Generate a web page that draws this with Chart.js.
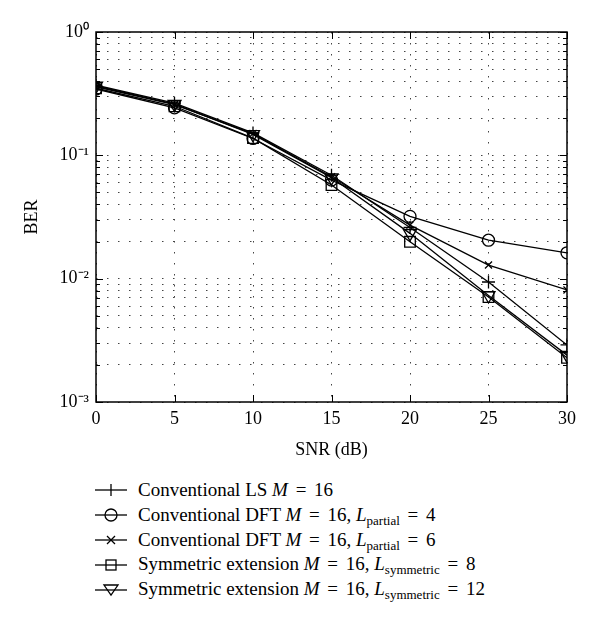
<!DOCTYPE html>
<html>
<head>
<meta charset="utf-8">
<script src="https://cdn.jsdelivr.net/npm/chart.js@4/dist/chart.umd.min.js"></script>
<style>
  html, body { margin: 0; padding: 0; background: #fff; }
  #wrap { position: relative; width: 600px; height: 625px; }
  #box { position: absolute; left: 0; top: 0; width: 600px; height: 470px; }
  #legend { position: absolute; left: 95px; top: 478px; font-family: "Liberation Serif", serif; font-size: 19px; color: #000; }
  .row { position: relative; height: 24.8px; line-height: 24.8px; white-space: nowrap; }
  .row svg { position: absolute; left: 0; top: 2.4px; }
  .row span.t { position: absolute; left: 43px; top: 0; }
  .eq { margin: 0 3px; }
  sub { font-size: 13px; vertical-align: -4px; line-height: 0; }
</style>
</head>
<body>
<div id="wrap">
  <div id="box"><canvas id="c"></canvas></div>
  <div id="legend"></div>
</div>
<script>
// ---- data ----
const snr = [0, 5, 10, 15, 20, 25, 30];
const berLS      = [0.370, 0.265, 0.152, 0.069, 0.0260, 0.0094, 0.0029];
const berDFT4    = [0.345, 0.243, 0.137, 0.063, 0.0320, 0.0205, 0.0162];
const berDFT6    = [0.360, 0.258, 0.150, 0.067, 0.0272, 0.0129, 0.0081];
const berSym8    = [0.350, 0.250, 0.138, 0.0575, 0.0199, 0.0071, 0.00228];
const berSym12   = [0.365, 0.260, 0.148, 0.066, 0.0233, 0.0073, 0.0024];

const xTickValues = [0, 5, 10, 15, 20, 25, 30];
const yDecades = [0.001, 0.01, 0.1, 1];
const yDecadeLabels = ['10\u207B\u00B3', '10\u207B\u00B2', '10\u207B\u00B9', '10\u2070'];

const EQ = '<span class="eq">=</span>';
const seriesNames = [
  'Conventional LS <i>M</i> ' + EQ + ' 16',
  'Conventional DFT <i>M</i> ' + EQ + ' 16, <i>L</i><sub>partial</sub> ' + EQ + ' 4',
  'Conventional DFT <i>M</i> ' + EQ + ' 16, <i>L</i><sub>partial</sub> ' + EQ + ' 6',
  'Symmetric extension <i>M</i> ' + EQ + ' 16, <i>L</i><sub>symmetric</sub> ' + EQ + ' 8',
  'Symmetric extension <i>M</i> ' + EQ + ' 16, <i>L</i><sub>symmetric</sub> ' + EQ + ' 12'
];
const seriesPlain = [
  'Conventional LS M = 16',
  'Conventional DFT M = 16, Lpartial = 4',
  'Conventional DFT M = 16, Lpartial = 6',
  'Symmetric extension M = 16, Lsymmetric = 8',
  'Symmetric extension M = 16, Lsymmetric = 12'
];
const seriesData = [berLS, berDFT4, berDFT6, berSym8, berSym12];
const markers = ['cross', 'circle', 'crossRot', 'rect', 'triangle'];
const markerRot = [0, 0, 0, 0, 180];
const markerRad = [6.5, 6, 5, 7.5, 7.5];

// minor+major ticks on the log axis
const yTickValues = [];
for (let e = -3; e < 0; e++) {
  for (let m = 1; m <= 9; m++) yTickValues.push(m * Math.pow(10, e));
}
yTickValues.push(1);

function decadeLabel(v) {
  const l = Math.log10(v);
  if (Math.abs(l - Math.round(l)) > 1e-9) return '';
  const i = yDecades.findIndex(d => Math.abs(Math.log10(d) - l) < 1e-9);
  return i >= 0 ? yDecadeLabels[i] : '';
}

const FONT = '"Liberation Serif", serif';

const frame = {
  id: 'frame',
  afterDraw(chart) {
    const { ctx, chartArea: { left, right, top, bottom }, scales: { x, y } } = chart;
    ctx.save();
    ctx.strokeStyle = '#000';
    ctx.lineWidth = 1;
    y.ticks.forEach(t => {
      const py = Math.round(y.getPixelForValue(t.value)) + 0.5;
      const len = decadeLabel(t.value) ? 7 : 4;
      ctx.beginPath();
      ctx.moveTo(left, py); ctx.lineTo(left + len, py);
      ctx.moveTo(right, py); ctx.lineTo(right - len, py);
      ctx.stroke();
    });
    x.ticks.forEach(t => {
      const px = Math.round(x.getPixelForValue(t.value)) + 0.5;
      ctx.beginPath();
      ctx.moveTo(px, bottom); ctx.lineTo(px, bottom - 7);
      ctx.moveTo(px, top); ctx.lineTo(px, top + 7);
      ctx.stroke();
    });
    ctx.lineWidth = 1.5;
    ctx.strokeRect(left, top, right - left, bottom - top);
    ctx.restore();
  }
};

new Chart(document.getElementById('c'), {
  type: 'line',
  data: {
    datasets: seriesData.map((d, i) => ({
      label: seriesPlain[i],
      data: snr.map((s, k) => ({ x: s, y: d[k] })),
      borderColor: '#000',
      borderWidth: 1.3,
      pointStyle: markers[i],
      pointRotation: markerRot[i],
      pointRadius: markerRad[i],
      pointBorderColor: '#000',
      pointBackgroundColor: 'rgba(0,0,0,0)',
      pointBorderWidth: 1.3,
      tension: 0,
      fill: false
    }))
  },
  options: {
    responsive: true,
    maintainAspectRatio: false,
    animation: false,
    layout: { padding: { left: 0, top: 32, right: 33, bottom: 0 } },
    plugins: { legend: { display: false }, tooltip: { enabled: false } },
    scales: {
      x: {
        type: 'linear', min: 0, max: 30,
        afterBuildTicks: s => { s.ticks = xTickValues.map(v => ({ value: v })); },
        afterFit: s => { s.height = 68; },
        ticks: { color: '#000', font: { family: FONT, size: 18 }, padding: 6, maxRotation: 0 },
        grid: { color: '#444', lineWidth: 1, drawTicks: false },
        border: { display: false, dash: [1.5, 9.5] },
        title: { display: true, text: 'SNR (dB)', color: '#000', font: { family: FONT, size: 18 }, padding: { top: 0, bottom: 9 } }
      },
      y: {
        type: 'logarithmic', min: 0.001, max: 1,
        afterBuildTicks: s => { s.ticks = yTickValues.map(v => ({ value: v })); },
        afterFit: s => { s.width = 96; },
        ticks: { color: '#000', font: { family: FONT, size: 18 }, padding: 7, autoSkip: false, callback: v => decadeLabel(v) },
        grid: { color: '#444', lineWidth: 1, drawTicks: false },
        border: { display: false, dash: [1.5, 9.5] },
        title: { display: true, text: 'BER', color: '#000', font: { family: FONT, size: 18 }, padding: { top: 21, bottom: 0 } }
      }
    }
  },
  plugins: [frame]
});

// HTML legend (real text with italics and subscripts)
const markerSvg = [
  '<line x1="16" y1="4" x2="16" y2="16"/>',
  '<circle cx="16" cy="10" r="6" fill="none"/>',
  '<line x1="12" y1="6" x2="20" y2="14"/><line x1="12" y1="14" x2="20" y2="6"/>',
  '<rect x="11" y="5" width="10" height="10" fill="none"/>',
  '<polygon points="9,5 23,5 16,15" fill="none"/>'
];
const leg = document.getElementById('legend');
seriesNames.forEach((n, i) => {
  const r = document.createElement('div');
  r.className = 'row';
  r.innerHTML = '<svg width="34" height="20" stroke="#000" stroke-width="1.3"><line x1="0" y1="10" x2="32" y2="10"/>' + markerSvg[i] + '</svg><span class="t">' + n + '</span>';
  leg.appendChild(r);
});
</script>
</body>
</html>
